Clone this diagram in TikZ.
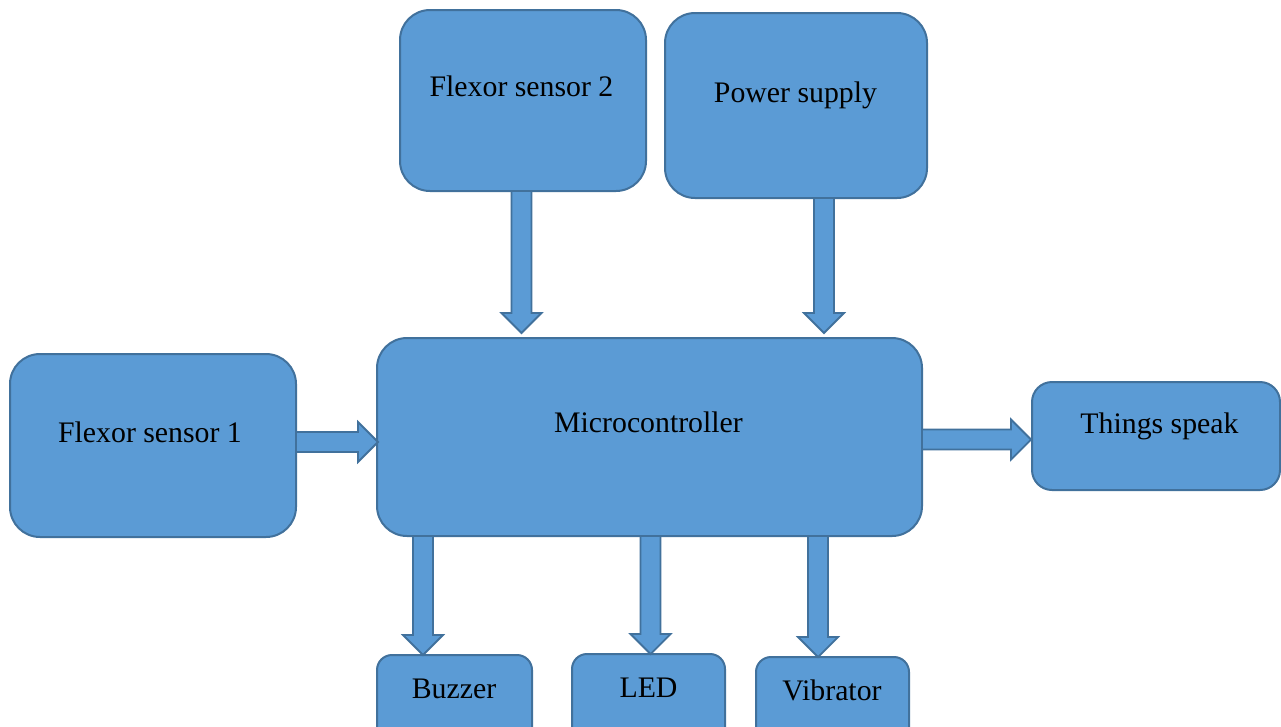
\documentclass[tikz,border=0pt]{standalone}
\usepackage{fontspec}
\setmainfont{Liberation Serif}
\usetikzlibrary{calc}
\definecolor{boxfill}{HTML}{5B9BD5}
\definecolor{boxline}{HTML}{41719C}
\tikzset{
  blk/.style={draw=boxline, fill=boxfill, line width=2pt, rectangle,
    rounded corners=#1, inner sep=0pt, outer sep=0pt},
  blk/.default=30pt,
  lbl/.style={anchor=base, inner sep=0pt, text=black,
    font=\fontsize{29.8}{34}\selectfont},
  barrow/.style={draw=boxline, fill=boxfill, line width=1.8pt, line join=miter,
    to path={
      ($(\tikztostart)!10pt!90:(\tikztotarget)$) --
      ($(\tikztotarget)!20pt!(\tikztostart)!10pt!-90:(\tikztostart)$) --
      ($(\tikztotarget)!20pt!(\tikztostart)!20pt!-90:(\tikztostart)$) --
      (\tikztotarget) --
      ($(\tikztotarget)!20pt!(\tikztostart)!20pt!90:(\tikztostart)$) --
      ($(\tikztotarget)!20pt!(\tikztostart)!10pt!90:(\tikztostart)$) --
      ($(\tikztostart)!10pt!-90:(\tikztotarget)$) -- cycle}}
}
\begin{document}
\begin{tikzpicture}[x=1pt,y=-1pt]
\clip (0,0) rectangle (1281,726);
\fill[white] (0,0) rectangle (1281,726);
% boxes
\node[blk, minimum width=246pt, minimum height=181pt] (fs2) at (523,100.5) {};
\node[blk, minimum width=262pt, minimum height=185pt] (ps) at (796,105.5) {};
\node[blk, minimum width=286pt, minimum height=183pt] (fs1) at (153,445.5) {};
\node[blk, minimum width=545pt, minimum height=198pt] (mc) at (649.5,437) {};
\node[blk=20pt, minimum width=248pt, minimum height=108pt] (ts) at (1156,436) {};
\node[blk=15pt, minimum width=155pt, minimum height=90pt] (bz) at (454.5,700) {};
\node[blk=15pt, minimum width=153pt, minimum height=90pt] (led) at (648.5,699) {};
\node[blk=15pt, minimum width=153pt, minimum height=90pt] (vib) at (832.5,702) {};
% labels
\node[lbl] (fs2t) at (521.5,96) {Flexor sensor 2};
\node[lbl] (pst) at (795.5,102) {Power supply};
\node[lbl] (fs1t) at (150,442) {Flexor sensor 1};
\node[lbl] (mct) at (648.5,432) {Microcontroller};
\node[lbl] (tst) at (1159.5,433) {Things speak};
\node[lbl] (bzt) at (454,698) {Buzzer};
\node[lbl] (ledt) at (648.5,697) {LED};
\node[lbl] (vibt) at (832,700) {Vibrator};
% arrows
\path[barrow] ($(fs2.south)+(-1.5,0)$) to ($(fs2.south |- mc.north)+(-1.5,-5)$);
\path[barrow] ($(ps.south)+(28,0)$) to ($(ps.south |- mc.north)+(28,-5)$);
\path[barrow] ($(fs1.east)+(0,-3.5)$) to ($(fs1.east -| mc.west)+(1,-3.5)$);
\path[barrow] ($(mc.east)+(0,2.5)$) to ($(mc.east -| ts.west)+(-1,2.5)$);
\path[barrow] ($(mc.south -| bz.north)+(-31.5,0)$) to ($(bz.north)+(-31.5,0)$);
\path[barrow] ($(mc.south -| led.north)+(2,0)$) to ($(led.north)+(2,0)$);
\path[barrow] ($(mc.south -| vib.north)+(-14.5,0)$) to ($(vib.north)+(-14.5,0)$);
\end{tikzpicture}
\end{document}
